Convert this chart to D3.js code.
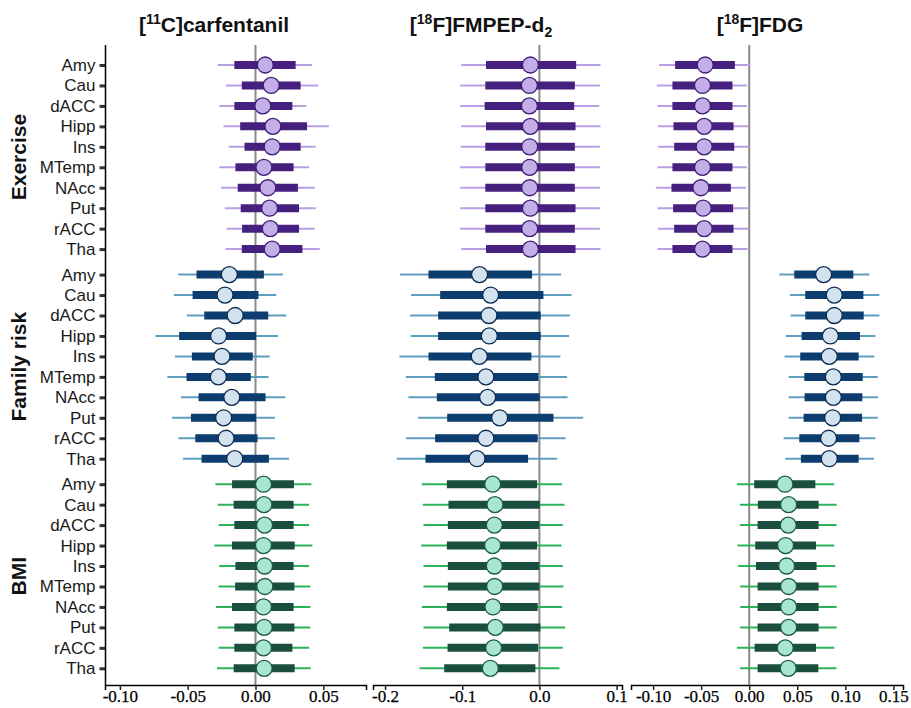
<!DOCTYPE html>
<html>
<head>
<meta charset="utf-8">
<script src="https://cdn.jsdelivr.net/npm/d3@7"></script>
<style>
  body { margin: 0; background: #fff; }
  svg { display: block; }
</style>
</head>
<body>
<div id="chart"></div>
<script>
// region labels, predictor groups and tick values
const regions = ['Amy', 'Cau', 'dACC', 'Hipp', 'Ins', 'MTemp', 'NAcc', 'Put', 'rACC', 'Tha'];
const predictors = ['Exercise', 'Family risk', 'BMI'];
const ticksCarf = [-0.10, -0.05, 0.00, 0.05];
const ticksFmpep = [-0.2, -0.1, 0.0, 0.1];
const ticksFdg = [-0.10, -0.05, 0.00, 0.05, 0.10, 0.15];

// each row: [estimate, outer low, inner low, inner high, outer high]
const carfExercise = [
  [0.0072, -0.0279, -0.0156, 0.0296, 0.0417],
  [0.0116, -0.0217, -0.0101, 0.0333, 0.0462],
  [0.0054, -0.0267, -0.0156, 0.0272, 0.0375],
  [0.0128, -0.0237, -0.0113, 0.0380, 0.0541],
  [0.0123, -0.0198, -0.0081, 0.0333, 0.0444],
  [0.0062, -0.0267, -0.0148, 0.0281, 0.0395],
  [0.0091, -0.0254, -0.0131, 0.0313, 0.0437],
  [0.0104, -0.0227, -0.0109, 0.0321, 0.0444],
  [0.0109, -0.0213, -0.0099, 0.0321, 0.0437],
  [0.0123, -0.0222, -0.0101, 0.0346, 0.0474]
];
const carfFamily = [
  [-0.0193, -0.0570, -0.0435, 0.0062, 0.0202],
  [-0.0225, -0.0602, -0.0464, 0.0022, 0.0153],
  [-0.0150, -0.0506, -0.0378, 0.0094, 0.0227],
  [-0.0272, -0.0738, -0.0563, 0.0005, 0.0165],
  [-0.0247, -0.0595, -0.0469, -0.0020, 0.0104],
  [-0.0274, -0.0650, -0.0509, -0.0035, 0.0096],
  [-0.0175, -0.0550, -0.0420, 0.0074, 0.0220],
  [-0.0235, -0.0615, -0.0476, 0.0005, 0.0143],
  [-0.0217, -0.0568, -0.0444, 0.0015, 0.0143],
  [-0.0153, -0.0536, -0.0398, 0.0099, 0.0247]
];
const carfBmi = [
  [0.0059, -0.0296, -0.0173, 0.0284, 0.0412],
  [0.0062, -0.0279, -0.0161, 0.0281, 0.0395],
  [0.0067, -0.0272, -0.0156, 0.0281, 0.0395],
  [0.0059, -0.0304, -0.0173, 0.0289, 0.0420],
  [0.0067, -0.0267, -0.0148, 0.0281, 0.0395],
  [0.0069, -0.0272, -0.0150, 0.0287, 0.0405],
  [0.0059, -0.0291, -0.0173, 0.0281, 0.0405],
  [0.0064, -0.0279, -0.0156, 0.0287, 0.0405],
  [0.0059, -0.0272, -0.0156, 0.0272, 0.0395],
  [0.0064, -0.0284, -0.0161, 0.0289, 0.0407]
];
const fmpepExercise = [
  [-0.0117, -0.1013, -0.0692, 0.0476, 0.0792],
  [-0.0130, -0.1026, -0.0701, 0.0459, 0.0783],
  [-0.0130, -0.1026, -0.0710, 0.0450, 0.0775],
  [-0.0117, -0.1013, -0.0692, 0.0468, 0.0792],
  [-0.0126, -0.1022, -0.0701, 0.0459, 0.0783],
  [-0.0126, -0.1026, -0.0701, 0.0459, 0.0783],
  [-0.0126, -0.1026, -0.0701, 0.0459, 0.0783],
  [-0.0117, -0.1026, -0.0701, 0.0468, 0.0783],
  [-0.0126, -0.1026, -0.0701, 0.0459, 0.0783],
  [-0.0117, -0.1013, -0.0692, 0.0468, 0.0792]
];
const fmpepFamily = [
  [-0.0775, -0.1805, -0.1437, -0.0095, 0.0282],
  [-0.0632, -0.1662, -0.1286, 0.0052, 0.0416],
  [-0.0654, -0.1675, -0.1312, 0.0017, 0.0394],
  [-0.0649, -0.1667, -0.1312, 0.0017, 0.0385],
  [-0.0779, -0.1814, -0.1437, -0.0104, 0.0273],
  [-0.0693, -0.1731, -0.1355, -0.0013, 0.0359],
  [-0.0671, -0.1697, -0.1329, 0.0004, 0.0364],
  [-0.0515, -0.1571, -0.1195, 0.0182, 0.0567],
  [-0.0693, -0.1727, -0.1351, -0.0022, 0.0338],
  [-0.0809, -0.1848, -0.1476, -0.0147, 0.0230]
];
const fmpepBmi = [
  [-0.0606, -0.1524, -0.1199, -0.0030, 0.0294],
  [-0.0576, -0.1510, -0.1178, 0.0004, 0.0325],
  [-0.0584, -0.1502, -0.1186, 0.0000, 0.0303],
  [-0.0606, -0.1532, -0.1199, -0.0030, 0.0286],
  [-0.0584, -0.1502, -0.1186, 0.0000, 0.0303],
  [-0.0580, -0.1502, -0.1186, 0.0000, 0.0312],
  [-0.0602, -0.1524, -0.1199, -0.0022, 0.0294],
  [-0.0571, -0.1502, -0.1169, 0.0013, 0.0333],
  [-0.0593, -0.1510, -0.1190, -0.0017, 0.0303],
  [-0.0636, -0.1554, -0.1234, -0.0052, 0.0260]
];
const fdgExercise = [
  [-0.0458, -0.0938, -0.0771, -0.0149, 0.0010],
  [-0.0486, -0.0962, -0.0799, -0.0174, -0.0024],
  [-0.0486, -0.0955, -0.0799, -0.0174, -0.0024],
  [-0.0469, -0.0948, -0.0788, -0.0163, -0.0010],
  [-0.0469, -0.0948, -0.0781, -0.0156, 0.0000],
  [-0.0486, -0.0955, -0.0799, -0.0174, -0.0024],
  [-0.0503, -0.0972, -0.0809, -0.0191, -0.0035],
  [-0.0479, -0.0955, -0.0792, -0.0167, -0.0010],
  [-0.0469, -0.0948, -0.0781, -0.0163, -0.0007],
  [-0.0486, -0.0955, -0.0799, -0.0174, -0.0017]
];
const fdgFamily = [
  [0.0774, 0.0313, 0.0469, 0.1083, 0.1250],
  [0.0885, 0.0424, 0.0583, 0.1188, 0.1354],
  [0.0885, 0.0431, 0.0583, 0.1191, 0.1354],
  [0.0844, 0.0382, 0.0545, 0.1153, 0.1313],
  [0.0833, 0.0368, 0.0531, 0.1139, 0.1302],
  [0.0875, 0.0410, 0.0573, 0.1181, 0.1337],
  [0.0875, 0.0410, 0.0576, 0.1177, 0.1340],
  [0.0868, 0.0410, 0.0566, 0.1174, 0.1337],
  [0.0826, 0.0358, 0.0521, 0.1146, 0.1313],
  [0.0833, 0.0375, 0.0538, 0.1139, 0.1299]
];
const fdgBmi = [
  [0.0372, -0.0128, 0.0052, 0.0688, 0.0885],
  [0.0410, -0.0097, 0.0090, 0.0722, 0.0910],
  [0.0406, -0.0097, 0.0087, 0.0722, 0.0910],
  [0.0378, -0.0122, 0.0063, 0.0695, 0.0885],
  [0.0389, -0.0115, 0.0070, 0.0701, 0.0896],
  [0.0410, -0.0094, 0.0087, 0.0722, 0.0910],
  [0.0410, -0.0094, 0.0087, 0.0722, 0.0910],
  [0.0410, -0.0097, 0.0087, 0.0722, 0.0910],
  [0.0375, -0.0128, 0.0056, 0.0695, 0.0885],
  [0.0406, -0.0097, 0.0087, 0.0719, 0.0906]
];

const colors = [
  { thin: '#b9a0e6', thick: '#45207f', fill: '#c3aee8', stroke: '#3e1d74' },
  { thin: '#5e9ec0', thick: '#0c3d6e', fill: '#d2e3ef', stroke: '#0d2a50' },
  { thin: '#2eb35d', thick: '#1a4f3f', fill: '#a8e6d2', stroke: '#1d5b46' }
];

const sans = '"Liberation Sans", Arial, Helvetica, sans-serif';
const serif = '"Liberation Serif", "Times New Roman", Times, serif';

const width = 911;
const height = 708;

const svg = d3.select('#chart').append('svg')
  .attr('width', width)
  .attr('height', height);

// rows: 10 per group with a bit of extra space between groups
const groupGap = 0.247;
const slot = (g, i) => g * (regions.length + groupGap) + i;
const y = d3.scaleLinear()
  .domain([0, slot(2, 9)])
  .range([65, 668.3]);

const axisY = 685;
const topY = 45;

const panels = [
  { title: ['[', '11', 'C]carfentanil', ''], cx: 214, domain: [-0.111, 0.0815], range: [105, 366], ticks: ticksCarf, fmt: d3.format('.2f'),
    data: [carfExercise, carfFamily, carfBmi] },
  { title: ['[', '18', 'F]FMPEP-d', '2'], cx: 481, domain: [-0.2156, 0.107], range: [373, 622], ticks: ticksFmpep, fmt: d3.format('.1f'),
    data: [fmpepExercise, fmpepFamily, fmpepBmi] },
  { title: ['[', '18', 'F]FDG', ''], cx: 760, domain: [-0.123, 0.16], range: [631, 903], ticks: ticksFdg, fmt: d3.format('.2f'),
    data: [fdgExercise, fdgFamily, fdgBmi] }
];

panels.forEach((p) => {
  const x = d3.scaleLinear().domain(p.domain).range(p.range);
  const g = svg.append('g');

  // zero reference line
  g.append('line')
    .attr('x1', x(0)).attr('x2', x(0))
    .attr('y1', topY).attr('y2', axisY)
    .attr('stroke', '#8a8a8a')
    .attr('stroke-width', 2);

  p.data.forEach((rows, gi) => {
    const c = colors[gi];
    const rg = g.append('g');
    rows.forEach((r, i) => {
      const yy = y(slot(gi, i));
      rg.append('line')
        .attr('x1', x(r[1])).attr('x2', x(r[4]))
        .attr('y1', yy).attr('y2', yy)
        .attr('stroke', c.thin)
        .attr('stroke-width', 2);
      rg.append('line')
        .attr('x1', x(r[2])).attr('x2', x(r[3]))
        .attr('y1', yy).attr('y2', yy)
        .attr('stroke', c.thick)
        .attr('stroke-width', 8);
      rg.append('circle')
        .attr('cx', x(r[0])).attr('cy', yy)
        .attr('r', 8)
        .attr('fill', c.fill)
        .attr('stroke', c.stroke)
        .attr('stroke-width', 1.3);
    });
  });

  // x axis, plain hyphen for the minus sign like the original
  const xAxis = g.append('g')
    .attr('transform', `translate(0,${axisY})`)
    .call(d3.axisBottom(x).tickValues(p.ticks)
      .tickFormat(d => p.fmt(d).replace('\u2212', '-'))
      .tickSizeOuter(0).tickSize(5));
  xAxis.select('.domain').attr('stroke', '#000').attr('stroke-width', 1.5);
  xAxis.selectAll('.tick line').attr('stroke', '#222').attr('stroke-width', 1.5);
  xAxis.selectAll('.tick text')
    .style('font-family', serif)
    .style('font-size', '17px')
    .attr('fill', '#000')
    .attr('stroke', '#000')
    .attr('stroke-width', 0.25)
    .attr('dy', '0.71em')
    .attr('y', 5);

  // panel title with superscript / subscript
  const t = svg.append('text')
    .attr('x', p.cx).attr('y', 32)
    .attr('text-anchor', 'middle')
    .style('font-family', sans)
    .style('font-weight', 'bold')
    .style('font-size', '21px')
    .attr('fill', '#111');
  t.append('tspan').text(p.title[0]);
  t.append('tspan').style('font-size', '14px').attr('dy', -8).text(p.title[1]);
  t.append('tspan').attr('dy', 8).text(p.title[2]);
  if (p.title[3]) t.append('tspan').style('font-size', '14px').attr('dy', 5).text(p.title[3]);
});

// y axis with region labels
const yTicks = [];
const yLabels = {};
predictors.forEach((_, gi) => regions.forEach((r, i) => { const s = slot(gi, i); yTicks.push(s); yLabels[s] = r; }));

const yAxis = svg.append('g')
  .attr('transform', 'translate(105.5,0)')
  .call(d3.axisLeft(y).tickValues(yTicks).tickFormat(s => yLabels[s]).tickSize(6).tickPadding(4));
yAxis.select('.domain').remove();
yAxis.selectAll('.tick line').attr('stroke', '#333').attr('stroke-width', 3);
yAxis.selectAll('.tick text')
  .style('font-family', sans)
  .style('font-size', '17px')
  .attr('fill', '#1a1a1a');
svg.append('line')
  .attr('x1', 105.5).attr('x2', 105.5)
  .attr('y1', topY).attr('y2', axisY + 0.75)
  .attr('stroke', '#000')
  .attr('stroke-width', 1.5);

// group labels
predictors.forEach((name, gi) => {
  const cy = (y(slot(gi, 0)) + y(slot(gi, 9))) / 2;
  svg.append('text')
    .attr('transform', `translate(26,${cy}) rotate(-90)`)
    .attr('text-anchor', 'middle')
    .style('font-family', sans)
    .style('font-weight', 'bold')
    .style('font-size', '21px')
    .attr('fill', '#111')
    .text(name);
});
</script>
</body>
</html>
